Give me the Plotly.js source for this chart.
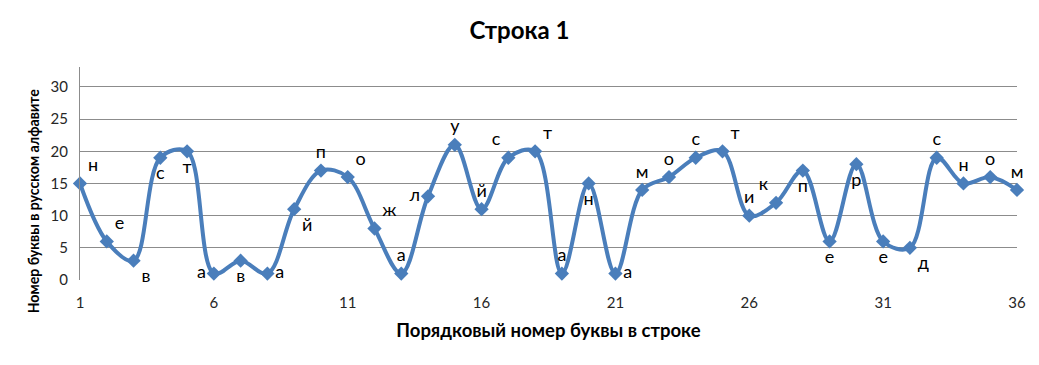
<!DOCTYPE html>
<html>
<head>
<meta charset="utf-8">
<script src="https://cdn.plot.ly/plotly-3.0.1.min.js"></script>
<style>html,body{margin:0;padding:0;background:#fff;}#chart{width:1039px;height:365px;}</style>
</head>
<body>
<div id="chart"></div>
<script>
const positions = [1,2,3,4,5,6,7,8,9,10,11,12,13,14,15,16,17,18,19,20,21,22,23,24,25,26,27,28,29,30,31,32,33,34,35,36];
const letters = ['н','е','в','с','т','а','в','а','й','п','о','ж','а','л','у','й','с','т','а','н','а','м','о','с','т','и','к','п','е','р','е','д','с','н','о','м'];
const letterNumbers = [15,6,3,19,20,1,3,1,11,17,16,8,1,13,21,11,19,20,1,15,1,14,16,19,20,10,12,17,6,18,6,5,19,15,16,14];
const tickValues = [1,6,11,16,21,26,31,36];
const labelPlacement = ['top right','top right','bottom right','bottom center','bottom center','middle left','bottom center','middle right','bottom right','top center','top right','top right','top center','middle left','top center','top center','top left','top right','top center','bottom center','middle right','top center','top center','top center','top right','top center','top left','bottom center','bottom center','bottom center','bottom center','bottom right','top center','top center','top center','top center'];

const FONT = 'Lato, "Open Sans", sans-serif';

const trace = {
  x: positions,
  y: letterNumbers,
  text: letters,
  mode: 'lines+markers+text',
  type: 'scatter',
  textposition: labelPlacement,
  textfont: {family: FONT, size: 18, color: '#000'},
  line: {shape: 'spline', smoothing: 1, color: '#4A7EBB', width: 4},
  marker: {symbol: 'diamond', size: 11, color: '#4A7EBB'},
  cliponaxis: false,
  hoverinfo: 'x+y+text'
};

const layout = {
  width: 1039, height: 365,
  margin: {l: 80, r: 22, t: 67, b: 85},
  paper_bgcolor: '#fff', plot_bgcolor: '#fff',
  showlegend: false,
  font: {family: FONT},
  title: {text: 'Строка 1', font: {family: FONT, size: 24, color: '#000', weight: 'bold'}, x: 0.5, xanchor: 'center', y: 0.915, yanchor: 'middle'},
  xaxis: {
    range: [1, 36], tickvals: tickValues, ticktext: tickValues.map(String),
    showgrid: false, zeroline: false, showline: false, ticks: '',
    tickfont: {family: FONT, size: 15, color: '#262626'},
    ticklabelstandoff: 12,
    title: {text: 'Порядковый номер буквы в строке', font: {family: FONT, size: 18.5, color: '#000', weight: 'bold'}, standoff: 14}
  },
  yaxis: {
    range: [0, 33.1], tickvals: [0,5,10,15,20,25,30],
    showgrid: true, gridcolor: '#8C8C8C', gridwidth: 1,
    zeroline: false, showline: true, linecolor: '#8C8C8C', linewidth: 1, ticks: '',
    tickfont: {family: FONT, size: 15, color: '#262626'},
    ticklabelstandoff: 8
  },
  annotations: [{
    text: 'Номер буквы в русском алфавите',
    xref: 'paper', yref: 'paper', x: -0.05, y: 0.37,
    xanchor: 'center', yanchor: 'middle', textangle: -90, showarrow: false,
    font: {family: FONT, size: 14.2, color: '#000', weight: 'bold'}
  }]
};

Plotly.newPlot('chart', [trace], layout, {displayModeBar: false, staticPlot: true});
</script>
</body>
</html>
